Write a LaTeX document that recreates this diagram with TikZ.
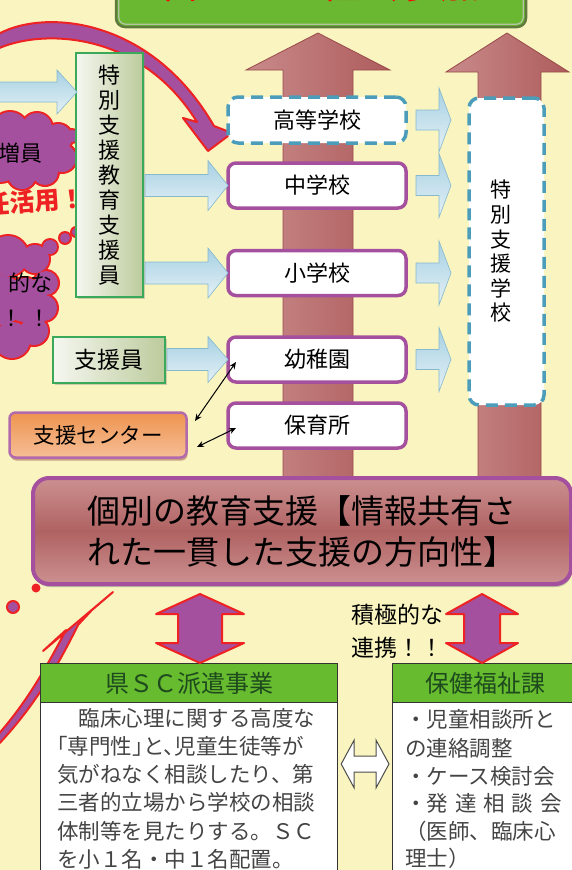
\documentclass[tikz,border=0pt]{standalone}
\usepackage{fontspec}
\setmainfont{Noto Sans CJK JP}
\usetikzlibrary{calc,shadows,arrows.meta}
\definecolor{bg}{HTML}{FAF5C0}
\definecolor{purp}{HTML}{A4509E}
\definecolor{redl}{HTML}{EE2222}
\definecolor{brwl}{HTML}{C98A8A}
\definecolor{brw}{HTML}{AE5C5C}
\definecolor{brwd}{HTML}{9A4A4A}
\definecolor{dblue}{HTML}{4B9DBA}
\definecolor{lblue}{HTML}{A6D0E2}
\definecolor{lbluee}{HTML}{86B8CE}
\definecolor{gbord}{HTML}{3AAA5A}
\definecolor{gfill}{HTML}{BCCB9C}
\definecolor{hgreen}{HTML}{66BB2E}
\definecolor{dgreen}{HTML}{1E4A1E}
\definecolor{tgreen}{HTML}{6AB832}
\definecolor{tgreend}{HTML}{5E7A3C}
\definecolor{org}{HTML}{EE9450}
\definecolor{orgl}{HTML}{F6BE96}
\definecolor{kbm}{HTML}{B06262}
\definecolor{kbl}{HTML}{CC9090}
\definecolor{txtg}{HTML}{444444}
\newcommand\fs[1]{\fontsize{#1}{#1}\selectfont}
\newcommand\harrow[6]{\path[blockfill] let \p1=(#3) in (#1pt,\y1+#4pt) -- (#2pt-#6pt,\y1+#4pt) -- (#2pt-#6pt,\y1+#5pt) -- (#2pt,\y1) -- (#2pt-#6pt,\y1-#5pt) -- (#2pt-#6pt,\y1-#4pt) -- (#1pt,\y1-#4pt) -- cycle;}
\newcommand\varrow[6]{\path[purparrow] let \p1=(#2), \p2=(#3) in
 (#1pt,\y1-8pt) -- (#1pt+#5pt,\y1-8pt-#6pt) -- (#1pt+#4pt,\y1-8pt-#6pt) -- (#1pt+#4pt,\y2+#6pt) -- (#1pt+#5pt,\y2+#6pt) -- (#1pt,\y2) -- (#1pt-#5pt,\y2+#6pt) -- (#1pt-#4pt,\y2+#6pt) -- (#1pt-#4pt,\y1-8pt-#6pt) -- (#1pt-#5pt,\y1-8pt-#6pt) -- cycle;}
\tikzset{
 school/.style={draw=purp, line width=3.5pt, fill=white, rounded corners=8pt, minimum width=178pt, minimum height=45pt, font=\fs{22}, inner sep=0},
 dashbox/.style={draw=dblue, line width=3.5pt, dash pattern=on 12pt off 7pt, rounded corners=10pt, fill=white, inner sep=0},
 greenbox/.style={draw=gbord, line width=2.5pt, left color=white!85!gfill, right color=gfill, inner sep=0, drop shadow={shadow xshift=2pt,shadow yshift=-2pt,opacity=0.35}},
 blockfill/.style={top color=lblue, bottom color=white!70!lblue, draw=lbluee, line width=0.6pt},
 bigarrow/.style={left color=brwl, right color=brw, draw=brwd, line width=0.8pt},
 purparrow/.style={fill=purp, draw=redl, line width=2pt, line join=round},
 bodytxt/.style={anchor=west, inner sep=0, font=\fs{21.5}, text=txtg},
 hdr/.style={draw=black!80, line width=1.2pt, fill=hgreen, minimum height=39pt, anchor=north west, inner sep=0, font=\fs{24}, text=dgreen},
 bodybox/.style={draw=black!80, line width=1.2pt, fill=white, minimum height=215pt, anchor=north west, inner sep=0}
}
\begin{document}
\begin{tikzpicture}[x=1pt,y=-1pt]
\useasboundingbox (0,0) rectangle (572,870);
\fill[bg] (0,0) rectangle (572,870);
\clip (0,0) rectangle (572,870);

% clouds
\foreach \cx/\cy/\r in {10/130/18,37/128/15,58/138/14,62/158/14,45/172/13,22/175/14,0/160/22,35/152/22,
  8/256/20,35/259/14,46/283/12,44/308/13,34/331/14,12/340/18,0/300/25,25/300/22,
  72/136/6,82/129/4,50/247/7,65/238/5,76/232/4}
  {\fill[redl] (\cx,\cy) circle ({\r+2});}
\foreach \cx/\cy/\r in {10/130/18,37/128/15,58/138/14,62/158/14,45/172/13,22/175/14,0/160/22,35/152/22,
  8/256/20,35/259/14,46/283/12,44/308/13,34/331/14,12/340/18,0/300/25,25/300/22,
  72/136/6,82/129/4,50/247/7,65/238/5,76/232/4}
  {\fill[purp] (\cx,\cy) circle (\r);}
\node[font=\fs{22}, anchor=east, inner sep=0] (c1t) at (43,153) {増員};
\node[font=\fs{22}, anchor=east, inner sep=0] (c2t) at (53,283) {的な};
\node[font=\fs{22}, inner sep=0] (c2x) at (26,318) {！\hspace{6pt}！};
\node[text=redl, font=\bfseries\fs{25}, anchor=west, inner sep=0, rotate=4] (rt) at (-15,205) {任活用！};

% title
\node[draw=tgreend, line width=2.5pt, fill=tgreen, rounded corners=9pt, minimum width=410pt, minimum height=70pt, inner sep=0] (title) at (321,-8) {};
\draw[white!55!tgreend, line width=1.2pt, rounded corners=7pt] ($(title.south west)+(4,-4)$) rectangle ($(title.north east)+(-4,4)$);
\node[text=red, font=\fs{40}, anchor=base, inner sep=0] (ttext) at (320,-1.5) {自立と　社会参加};

% curved arrows
\path[purparrow] (-5,36) .. controls (40,8) and (150,15) .. (214,126) -- (232,133) -- (208,151) -- (183,118) -- (197,122) .. controls (140,30) and (40,28) .. (-5,50) -- cycle;
\path[purparrow] (113,592) -- (43,651) -- (66,630) .. controls (45,670) and (25,705) .. (-5,738) -- (-5,748) .. controls (30,712) and (55,672) .. (78,625) -- (92,610) -- cycle;
\fill[redl] (36,588) circle (4.5);
\filldraw[fill=purp, draw=redl, line width=2pt] (13,607) circle (6);

% big brown arrows
\path[bigarrow] (283,477) -- (283,70) -- (246,70) -- (318,33) -- (390,70) -- (353,70) -- (353,477) -- cycle;
\path[bigarrow] (478,477) -- (478,72) -- (446,72) -- (507,33) -- (569,72) -- (541,72) -- (541,477) -- cycle;

% schools
\node[dashbox, minimum width=178pt, minimum height=46pt, font=\fs{22}] (kou) at (317,120) {高等学校};
\node[school] (chu) at (317,185.5) {中学校};
\node[school] (shou) at (317,273) {小学校};
\node[school] (yo) at (317,359.5) {幼稚園};
\node[school] (ho) at (317,425.5) {保育所};
\node[dashbox, minimum width=75pt, minimum height=307pt] (tg) at (506.5,251.5) {};
\node[font=\fontsize{21}{24.6}\selectfont, align=center, inner sep=0] (tgt) at (501,251.5) {特\\別\\支\\援\\学\\校};

% left boxes
\node[greenbox, minimum width=67pt, minimum height=244pt] (tsse) at (109.5,175) {};
\node[font=\fontsize{22}{25}\selectfont, align=center, inner sep=0] (tsset) at (tsse) {特\\別\\支\\援\\教\\育\\支\\援\\員};
\node[greenbox, minimum width=112pt, minimum height=46pt, font=\fs{23}] (sien) at (109,360) {支援員};
\node[draw=purp!85, line width=2.5pt, top color=org, bottom color=orgl, rounded corners=6pt, minimum width=177pt, minimum height=45pt, font=\fs{21.5}, inner sep=0, drop shadow={shadow xshift=1pt, shadow yshift=-3pt, opacity=0.5, fill=brwd}] (cent) at (98,435) {支援センター};

% light blue block arrows
\coordinate (c0) at (0,92);
\harrow{-5}{77}{c0}{10}{22}{20}
\harrow{145}{228}{chu}{11}{25}{20}
\harrow{145}{228}{shou}{11}{25}{20}
\harrow{167}{228}{yo}{11}{23}{20}
\harrow{416}{451}{kou}{10}{32}{12}
\harrow{416}{451}{chu}{10}{32}{12}
\harrow{416}{451}{shou}{10}{32}{12}
\harrow{416}{451}{yo}{10}{32}{12}

% black arrows
\coordinate (b1) at (195,421);
\coordinate (b2) at (236,362);
\coordinate (b3) at (197,447);
\coordinate (b4) at (236,428);
\draw[{Stealth[length=7pt,width=6pt]}-{Stealth[length=7pt,width=6pt]}, line width=1pt] (b1) -- (b2);
\draw[{Stealth[length=7pt,width=6pt]}-{Stealth[length=7pt,width=6pt]}, line width=1pt] (b3) -- (b4);

% individual support box
\node[draw=purp, line width=4pt, top color=kbl, bottom color=kbl, middle color=kbm, rounded corners=16pt, minimum width=538pt, minimum height=106pt, align=left, font=\fontsize{33}{41}\selectfont, inner sep=0, drop shadow={shadow xshift=1pt, shadow yshift=-3pt, opacity=0.5}] (kb) at (302,531) {個別の教育支援【情報共有さ\\れた一貫した支援の方向性】};

% lower boxes
\node[bodybox, minimum width=297pt] (kenb) at (40,663) {};
\node[hdr, minimum width=297pt] (kenh) at (40,663) {県ＳＣ派遣事業};
\node[bodybox, minimum width=185pt] (hokb) at (392,663) {};
\node[hdr, minimum width=185pt] (hokh) at (392,663) {保健福祉課};

\node[bodytxt] (k1) at (57,718) {　臨床心理に関する高度な};
\node[bodytxt] (k2) at (57,746) {\addfontfeature{RawFeature=+halt}「専門性」と、児童生徒等が};
\node[bodytxt] (k3) at (57,774.5) {気がねなく相談したり、第};
\node[bodytxt] (k4) at (57,802.5) {三者的立場から学校の相談};
\node[bodytxt] (k5) at (57,831) {体制等を見たりする。ＳＣ};
\node[bodytxt] (k6) at (57,859) {を小１名・中１名配置。};

\node[bodytxt] (h1) at (405,719) {・児童相談所と};
\node[bodytxt] (h2) at (405,748) {の連絡調整};
\node[bodytxt] (h3) at (405,776) {・ケース検討会};
\node[bodytxt] (h4) at (405,803) {・{\addfontfeature{LetterSpace=32}発達相談会}};
\node[bodytxt] (h5) at (405,831) {（医師、臨床心};
\node[bodytxt] (h6) at (405,858) {理士）};

% vertical double arrows
\varrow{200}{kb.south}{kenh.north}{22}{44}{20}
\varrow{482}{kb.south}{hokh.north}{18}{36}{20}
\node[font=\fs{23}, anchor=west, inner sep=0] (s1) at (351,615) {積極的な};
\node[font=\fs{23}, anchor=west, inner sep=0] (s2) at (351,648) {連携！！};

% white double arrow
\coordinate (mid) at (0,764);
\path[draw=black!70, line width=1pt, fill=white] let \p1=(kenb.east), \p2=(hokb.west), \p3=(mid) in
 (\x1+3pt,\y3) -- (\x1+16pt,\y3+24pt) -- (\x1+16pt,\y3+8pt) -- (\x2-16pt,\y3+8pt) -- (\x2-16pt,\y3+24pt) -- (\x2-3pt,\y3) -- (\x2-16pt,\y3-24pt) -- (\x2-16pt,\y3-8pt) -- (\x1+16pt,\y3-8pt) -- (\x1+16pt,\y3-24pt) -- cycle;
\end{tikzpicture}
\end{document}
